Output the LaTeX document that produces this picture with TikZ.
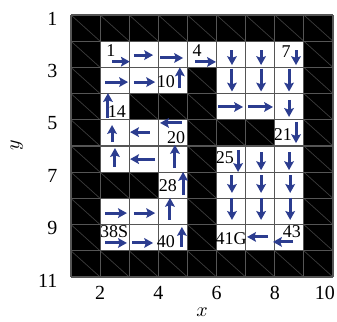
\documentclass[tikz,border=0pt]{standalone}
\usepackage{fontspec}
\setmainfont{Liberation Serif}
\usetikzlibrary{arrows.meta}
\definecolor{polblue}{HTML}{2B3C8F}
\definecolor{gridgray}{HTML}{555555}
\definecolor{hatchgray}{HTML}{3C3C3C}
\tikzset{
  maze/.style={font=\fontsize{10}{12}\selectfont, line width=.5pt,
    >={Stealth[length=4.4pt,width=4.8pt,inset=.8pt]}},
  wall/.style={fill=black},
  hatchline/.style={draw=hatchgray,line width=.35pt},
  gridline/.style={draw=gridgray,line width=.55pt},
  move/.style={->,draw=polblue,line width=1.5pt},
  state/.style={font=\fontsize{9}{10}\selectfont,inner sep=0pt},
  tick/.style={inner sep=0pt},
}

\begin{document}
\begin{tikzpicture}[maze,x=14.555pt,y=-13.1pt]
  % Same frame as the 337 x 321 figure; grid runs x 1..10, y 1..11.
  \useasboundingbox (-1.439,0.4275) rectangle (10.138,12.679);

  % ---------------- walls and free cells ----------------
  \fill[wall] (1,1) rectangle (10,11);
  \foreach \c in {1,...,9}
    \foreach \r in {1,...,10}
      \draw[hatchline] (\c,\r) -- ++(1,1);
  \foreach \c/\r in {2/2,3/2,4/2,5/2,6/2,7/2,8/2,
                     2/3,3/3,4/3,6/3,7/3,8/3,
                     2/4,6/4,7/4,8/4,
                     2/5,3/5,4/5,8/5,
                     2/6,3/6,4/6,6/6,7/6,8/6,
                     4/7,6/7,7/7,8/7,
                     2/8,3/8,4/8,6/8,7/8,8/8,
                     2/9,3/9,4/9,6/9,7/9,8/9}
    \fill[white] (\c,\r) rectangle ++(1,1);
  \foreach \c in {1,...,10}
    \draw[gridline] (\c,1) -- (\c,11);
  \foreach \r in {1,...,11}
    \draw[gridline] (1,\r) -- (10,\r);

  % ---------------- state numbers ----------------
  \node[state] (s1)  at (2.37,2.36) {1};
  \node[state] (s4)  at (5.33,2.36) {4};
  \node[state] (s7)  at (8.39,2.40) {7};
  \node[state] (s10) at (4.26,3.56) {10};
  \node[state] (s14) at (2.58,4.70) {14};
  \node[state] (s20) at (4.61,5.66) {20};
  \node[state] (s21) at (8.28,5.58) {21};
  \node[state] (s25) at (6.29,6.46) {25};
  \node[state] (s28) at (4.33,7.53) {28};
  \node[state] (s38) at (2.48,9.28) {38S};
  \node[state] (s40) at (4.26,9.66) {40};
  \node[state] (s41) at (6.50,9.55) {41G};
  \node[state] (s43) at (8.59,9.28) {43};

  % ---------------- policy arrows ----------------
  % east
  \foreach \a/\b/\y in {2.42/3.02/2.78, 3.16/3.82/2.53, 4.06/4.85/2.64,
      5.26/5.98/2.79, 2.17/2.96/3.56, 3.16/3.89/3.56, 6.05/6.91/4.51,
      7.08/7.94/4.51, 2.17/2.92/8.56, 3.16/3.89/8.56, 2.17/2.92/9.70,
      3.10/3.82/9.70}
    \draw[move] (\a,\y) -- (\b,\y);
  % west
  \foreach \a/\b/\y in {3.71/3.03/5.47, 4.81/4.06/5.12, 3.89/3.03/6.50,
      7.77/7.05/9.47, 8.63/7.94/9.66}
    \draw[move] (\a,\y) -- (\b,\y);
  % south
  \foreach \x/\a/\b in {6.53/2.34/2.91, 7.53/2.34/2.91, 8.73/2.34/2.91,
      6.53/3.05/3.92, 7.53/3.05/3.92, 8.49/3.05/3.92, 8.49/4.24/4.89,
      8.73/5.08/5.89, 6.74/6.15/6.99, 7.53/6.23/6.92, 8.49/6.23/6.92,
      6.53/7.11/7.79, 7.53/7.11/7.79, 8.53/7.11/7.79,
      6.53/7.98/8.82, 7.53/7.98/8.82, 8.53/7.98/8.82}
    \draw[move] (\x,\a) -- (\x,\b);
  % north
  \foreach \x/\a/\b in {4.74/3.79/3.00, 2.27/4.93/3.98, 2.41/5.85/5.20,
      2.51/6.80/6.08, 4.57/6.84/5.96, 4.85/7.87/6.99, 4.40/8.82/7.98,
      4.81/9.85/9.09}
    \draw[move] (\x,\a) -- (\x,\b);

  % ---------------- axes ----------------
  \foreach \t in {1,3,5,7,9,11}
    \node[tick,anchor=east] (yt\t) at (0.553,\t+0.13) {\t};
  \foreach \t/\p in {2/2,4/4,6/6,8/8,10/9.72}
    \node[tick] (xt\t) at (\p,11.61) {\t};
  \node[tick,rotate=90] (ylab) at (-0.86,5.96) {$y$};
  \node[tick] (xlab) at (5.5,12.34) {$x$};
\end{tikzpicture}
\end{document}
